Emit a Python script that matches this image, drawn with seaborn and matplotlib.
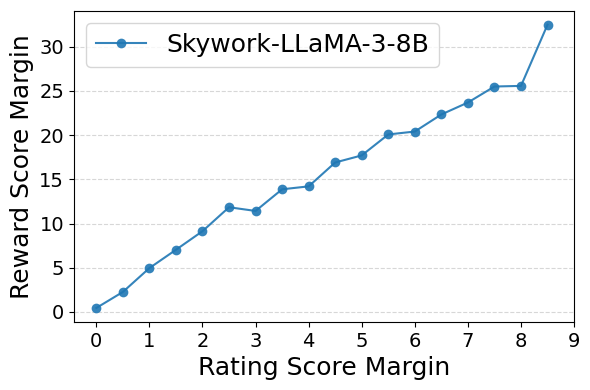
import numpy as np
import pandas as pd
import matplotlib
matplotlib.use("Agg")
import matplotlib.pyplot as plt
import seaborn as sns

# Data
rating_margin = [0, 0.5, 1, 1.5, 2, 2.5, 3, 3.5, 4, 4.5, 5, 5.5, 6, 6.5, 7, 7.5, 8, 8.5]
reward_margin = [0.45, 2.26, 4.96, 7.03, 9.13, 11.84, 11.42, 13.87, 14.2, 16.9,
                 17.7, 20.07, 20.4, 22.33, 23.68, 25.49, 25.56, 32.48]
model_name = "Skywork-LLaMA-3-8B"

df = pd.DataFrame({"rating": rating_margin, "reward": reward_margin})

fig, ax = plt.subplots(figsize=(5.9, 3.9), dpi=100)
sns.lineplot(data=df, x="rating", y="reward", marker="o", markersize=7,
             markeredgewidth=0, color="#1f77b4", alpha=0.9, label=model_name, ax=ax)

ax.set_xticks(range(10))
ax.tick_params(axis="both", labelsize=14)
ax.set_xlabel("Rating Score Margin", fontsize=18)
ax.set_ylabel("Reward Score Margin", fontsize=18)
ax.yaxis.grid(True, linestyle="--", color="lightgray", alpha=0.9)
ax.set_axisbelow(True)
ax.legend(loc="upper left", fontsize=18)

fig.subplots_adjust(left=0.125, right=0.973, top=0.973, bottom=0.174)
plt.savefig("out.png", dpi=100)
